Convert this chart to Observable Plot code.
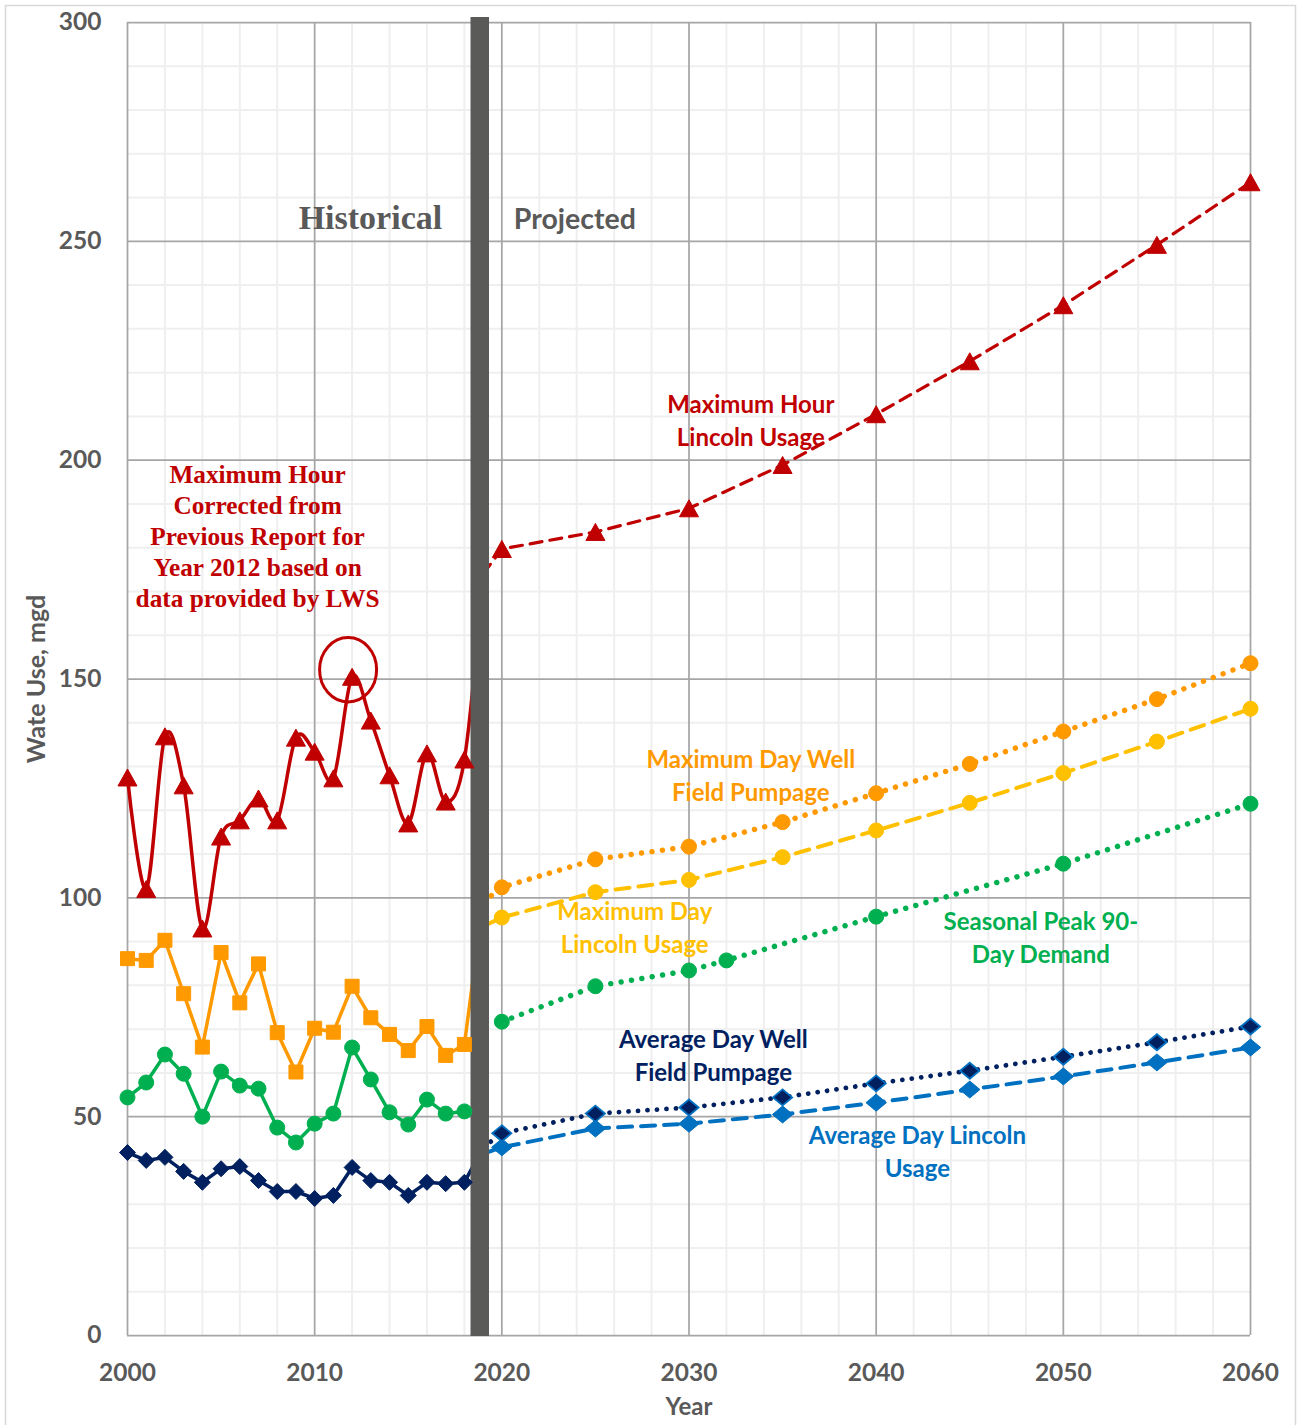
<!DOCTYPE html>
<html>
<head>
<meta charset="utf-8">
<script src="https://cdn.jsdelivr.net/npm/d3@7"></script>
<script src="https://cdn.jsdelivr.net/npm/@observablehq/plot@0.6"></script>
<style>
  body { margin: 0; background: #ffffff; }
  #chart { width: 1297px; height: 1425px; }
</style>
</head>
<body>
<div id="chart"></div>
<script>
// Historical record, 2000–2018 (mgd)
const histYears = [2000, 2001, 2002, 2003, 2004, 2005, 2006, 2007, 2008, 2009,
                   2010, 2011, 2012, 2013, 2014, 2015, 2016, 2017, 2018];
const maxHourHist = [127.5, 102, 136.9, 125.7, 93, 114, 117.7, 122.7, 117.7, 136.6,
                     133.4, 127.3, 150.5, 140.5, 128, 117, 133, 122, 131.6];
const maxDayWellHist = [86.1, 85.7, 90.3, 78.1, 65.9, 87.5, 76, 84.9, 69.2, 60.2,
                        70.2, 69.3, 79.8, 72.6, 68.8, 65.1, 70.6, 64, 66.5];
const seasonalPeakHist = [54.4, 57.8, 64.2, 59.8, 50, 60.3, 57.1, 56.4, 47.5, 44.1,
                          48.4, 50.7, 65.8, 58.5, 51, 48.2, 53.9, 50.7, 51.2];
const avgDayWellHist = [41.8, 40, 40.7, 37.5, 35, 38.1, 38.6, 35.4, 32.9, 32.9,
                        31.3, 32, 38.4, 35.4, 35, 32, 35, 34.7, 35];

// 2019 join point between the two periods (line only, no marker)
const joinYear = 2019;
const maxHourJoin = 174;
const maxDayWellJoin = 99;
const maxDayLincolnJoin = 93.5;
const avgDayWellJoin = 43;
const avgDayLincolnJoin = 41.5;

// Projections
const projYears = [2020, 2025, 2030, 2035, 2040, 2045, 2050, 2055, 2060];
const maxHourProj = [179.7, 183.6, 189, 198.9, 210.5, 222.6, 235.4, 249.2, 263.5];
const maxDayWellProj = [102.4, 108.8, 111.7, 117.3, 123.9, 130.6, 138, 145.4, 153.6];
const maxDayLincolnProj = [95.5, 101.3, 104.1, 109.3, 115.4, 121.7, 128.5, 135.7, 143.2];
const avgDayWellProj = [46.2, 50.7, 52.1, 54.4, 57.6, 60.5, 63.7, 67, 70.6];
const avgDayLincolnProj = [43, 47.3, 48.4, 50.5, 53.2, 56.2, 59.2, 62.4, 65.8];
const seasonalYears = [2020, 2025, 2030, 2032, 2040, 2050, 2060];
const seasonalPeakProj = [71.7, 79.8, 83.4, 85.7, 95.7, 107.8, 121.5];

// Divider between historical and projected periods
const dividerYear = 2018.82;
// Highlighted 2012 maximum-hour value
const correctedYear = 2012;
const correctedValue = 150.5;

// Axis ticks
const xTicks = [2000, 2010, 2020, 2030, 2040, 2050, 2060];
const yTicks = [0, 50, 100, 150, 200, 250, 300];
const xMinor = d3.range(2002, 2060, 2).filter(d => d % 10 !== 0);
const yMinor = d3.range(10, 300, 10).filter(d => d % 50 !== 0);

const rows = (xs, ys) => xs.map((x, i) => ({x, y: ys[i]}));
const withJoin = (xs, ys, v, atEnd) => atEnd
  ? [...rows(xs, ys), {x: joinYear, y: v}]
  : [{x: joinYear, y: v}, ...rows(xs, ys)];

const RED = "#C00000", ORANGE = "#FF9900", YELLOW = "#FFC000",
      GREEN = "#00B050", NAVY = "#002060", BLUE = "#0070C0", GRAY = "#595959";
const SANS = "Lato, 'Open Sans', sans-serif";
const SERIF = "'Liberation Serif', 'DejaVu Serif', serif";

// Marker shapes, centred on their bounding box
const radius = size => Math.sqrt(size / Math.PI);
const triangle = {draw(c, s) { const r = radius(s); c.moveTo(0, -r); c.lineTo(1.12 * r, r); c.lineTo(-1.12 * r, r); c.closePath(); }};
const square = {draw(c, s) { const r = radius(s); c.moveTo(-r, -r); c.lineTo(r, -r); c.lineTo(r, r); c.lineTo(-r, r); c.closePath(); }};
const diamond = {draw(c, s) { const r = radius(s); c.moveTo(0, -r); c.lineTo(r, 0); c.lineTo(0, r); c.lineTo(-r, 0); c.closePath(); }};
const wideDiamond = {draw(c, s) { const r = radius(s); c.moveTo(0, -r); c.lineTo(1.2 * r, 0); c.lineTo(0, r); c.lineTo(-1.2 * r, 0); c.closePath(); }};
const ellipse = {draw(c, s) {
  const r = radius(s), rx = r, ry = r * 1.13, k = 0.5523;
  c.moveTo(rx, 0);
  c.bezierCurveTo(rx, k * ry, k * rx, ry, 0, ry);
  c.bezierCurveTo(-k * rx, ry, -rx, k * ry, -rx, 0);
  c.bezierCurveTo(-rx, -k * ry, -k * rx, -ry, 0, -ry);
  c.bezierCurveTo(k * rx, -ry, rx, -k * ry, rx, 0);
  c.closePath();
}};

const label = (text, x, y, fill, extra = {}) =>
  Plot.text([text], {x, y, text: d => d, fill, fontFamily: SANS, fontSize: 24,
                     fontWeight: "bold", lineHeight: 1.375, ...extra});

const chart = Plot.plot({
  width: 1297,
  height: 1425,
  marginTop: 22,
  marginRight: 47,
  marginBottom: 90,
  marginLeft: 127,
  x: {domain: [2000, 2060]},
  y: {domain: [0, 300]},
  style: {fontFamily: SANS, background: "#ffffff"},
  marks: [
    // outer chart border
    Plot.frame({stroke: "#d9d9d9", strokeWidth: 1.5, fill: "none",
                insetLeft: -122, insetTop: -17, insetRight: -45, insetBottom: -100}),
    // gridlines
    Plot.ruleX(xMinor, {stroke: "#efefef", strokeWidth: 2}),
    Plot.ruleY(yMinor, {stroke: "#efefef", strokeWidth: 2}),
    Plot.ruleX(d3.range(2000, 2061, 10), {stroke: "#a6a6a6", strokeWidth: 1.75}),
    Plot.ruleY(d3.range(0, 301, 50), {stroke: "#a6a6a6", strokeWidth: 1.75}),

    // historical lines
    Plot.line(withJoin(histYears, maxHourHist, maxHourJoin, true),
      {x: "x", y: "y", stroke: RED, strokeWidth: 3.5, curve: "cardinal"}),
    Plot.line(withJoin(histYears, maxDayWellHist, maxDayWellJoin, true),
      {x: "x", y: "y", stroke: ORANGE, strokeWidth: 3.5}),
    Plot.line(rows(histYears, seasonalPeakHist),
      {x: "x", y: "y", stroke: GREEN, strokeWidth: 3.5}),
    Plot.line(withJoin(histYears, avgDayWellHist, avgDayWellJoin, true),
      {x: "x", y: "y", stroke: NAVY, strokeWidth: 3.5}),

    // projected lines
    Plot.line(withJoin(projYears, maxHourProj, maxHourJoin, false),
      {x: "x", y: "y", stroke: RED, strokeWidth: 3.2, strokeDasharray: "12,8"}),
    Plot.line(withJoin(projYears, maxDayWellProj, maxDayWellJoin, false),
      {x: "x", y: "y", stroke: ORANGE, strokeWidth: 5.5, strokeDasharray: "0.01,10.5", strokeLinecap: "round"}),
    Plot.line(withJoin(projYears, maxDayLincolnProj, maxDayLincolnJoin, false),
      {x: "x", y: "y", stroke: YELLOW, strokeWidth: 4, strokeDasharray: "14,9"}),
    Plot.line(rows(seasonalYears, seasonalPeakProj),
      {x: "x", y: "y", stroke: GREEN, strokeWidth: 5.5, strokeDasharray: "0.01,10.5", strokeLinecap: "round"}),
    Plot.line(withJoin(projYears, avgDayWellProj, avgDayWellJoin, false),
      {x: "x", y: "y", stroke: NAVY, strokeWidth: 4.8, strokeDasharray: "0.01,9.5", strokeLinecap: "round"}),
    Plot.line(withJoin(projYears, avgDayLincolnProj, avgDayLincolnJoin, false),
      {x: "x", y: "y", stroke: BLUE, strokeWidth: 4, strokeDasharray: "14,9"}),

    // historical / projected divider
    Plot.ruleX([dividerYear], {stroke: "#5a5b59", strokeWidth: 18.5, insetTop: -5, insetBottom: -1}),

    // historical markers
    Plot.dot(rows(histYears, maxHourHist), {x: "x", y: "y", symbol: triangle, r: 8.5, fill: RED, stroke: RED, strokeWidth: 1}),
    Plot.dot(rows(histYears, maxDayWellHist), {x: "x", y: "y", symbol: square, r: 7, fill: ORANGE, stroke: ORANGE, strokeWidth: 1}),
    Plot.dot(rows(histYears, seasonalPeakHist), {x: "x", y: "y", symbol: "circle", r: 7.5, fill: GREEN, stroke: GREEN, strokeWidth: 1}),
    Plot.dot(rows(histYears, avgDayWellHist), {x: "x", y: "y", symbol: diamond, r: 8, fill: NAVY, stroke: NAVY, strokeWidth: 1}),

    // projected markers
    Plot.dot(rows(projYears, maxHourProj), {x: "x", y: "y", symbol: triangle, r: 8.5, fill: RED, stroke: RED, strokeWidth: 1}),
    Plot.dot(rows(projYears, maxDayWellProj), {x: "x", y: "y", symbol: "circle", r: 7.5, fill: ORANGE, stroke: ORANGE, strokeWidth: 1}),
    Plot.dot(rows(projYears, maxDayLincolnProj), {x: "x", y: "y", symbol: "circle", r: 7.5, fill: YELLOW, stroke: YELLOW, strokeWidth: 1}),
    Plot.dot(rows(seasonalYears, seasonalPeakProj), {x: "x", y: "y", symbol: "circle", r: 7.5, fill: GREEN, stroke: GREEN, strokeWidth: 1}),
    Plot.dot(rows(projYears, avgDayLincolnProj), {x: "x", y: "y", symbol: wideDiamond, r: 8.5, fill: BLUE, stroke: BLUE, strokeWidth: 1}),
    Plot.dot(rows(projYears, avgDayWellProj), {x: "x", y: "y", symbol: wideDiamond, r: 8, fill: NAVY, stroke: BLUE, strokeWidth: 1.8}),

    // circle around the corrected 2012 value
    Plot.dot([{x: correctedYear, y: correctedValue}], {x: "x", y: "y", dx: -4, dy: -7, symbol: ellipse, r: 28.5,
      fill: "none", stroke: RED, strokeWidth: 3}),

    // period labels
    Plot.text(["Historical"], {x: 2012.98, y: 255.4, text: d => d, fill: GRAY,
      fontFamily: SERIF, fontSize: 34, fontWeight: "bold"}),
    Plot.text(["Projected"], {x: 2023.9, y: 254.8, text: d => d, fill: GRAY,
      fontFamily: SANS, fontSize: 28.5, fontWeight: "bold"}),

    // note about the 2012 correction
    Plot.text(["Maximum Hour\nCorrected from\nPrevious Report for\nYear 2012 based on\ndata provided by LWS"],
      {x: 2006.95, y: 182.8, text: d => d, fill: RED, fontFamily: SERIF, fontSize: 25.3,
       fontWeight: "bold", lineHeight: 1.225}),

    // series labels
    label("Maximum Hour\nLincoln Usage", 2033.3, 209.4, RED),
    label("Maximum Day Well\nField Pumpage", 2033.3, 128.3, ORANGE),
    label("Maximum Day\nLincoln Usage", 2027.1, 93.6, YELLOW),
    label("Seasonal Peak 90-\nDay Demand", 2048.8, 91.3, GREEN),
    label("Average Day Well\nField Pumpage", 2031.3, 64.4, NAVY),
    label("Average Day Lincoln\nUsage", 2042.2, 42.3, BLUE),

    // axes
    Plot.axisX(xTicks, {tickSize: 0, tickPadding: 28, tickFormat: d => String(d), label: null,
      fontSize: 24.5, fontWeight: "bold", fill: GRAY, fontFamily: SANS}),
    Plot.axisY(yTicks, {tickSize: 0, tickPadding: 26, label: null,
      fontSize: 24.5, fontWeight: "bold", fill: GRAY, fontFamily: SANS}),
    Plot.text(["Year"], {frameAnchor: "bottom", lineAnchor: "middle", dy: 72, text: d => d, fill: GRAY,
      fontSize: 24, fontWeight: "bold", fontFamily: SANS}),
    Plot.text(["Wate Use, mgd"], {frameAnchor: "left", textAnchor: "middle", lineAnchor: "middle", dx: -91, rotate: -90,
      text: d => d, fill: GRAY, fontSize: 25, fontWeight: "bold", fontFamily: SANS})
  ]
});

document.getElementById("chart").appendChild(chart);
</script>
</body>
</html>
